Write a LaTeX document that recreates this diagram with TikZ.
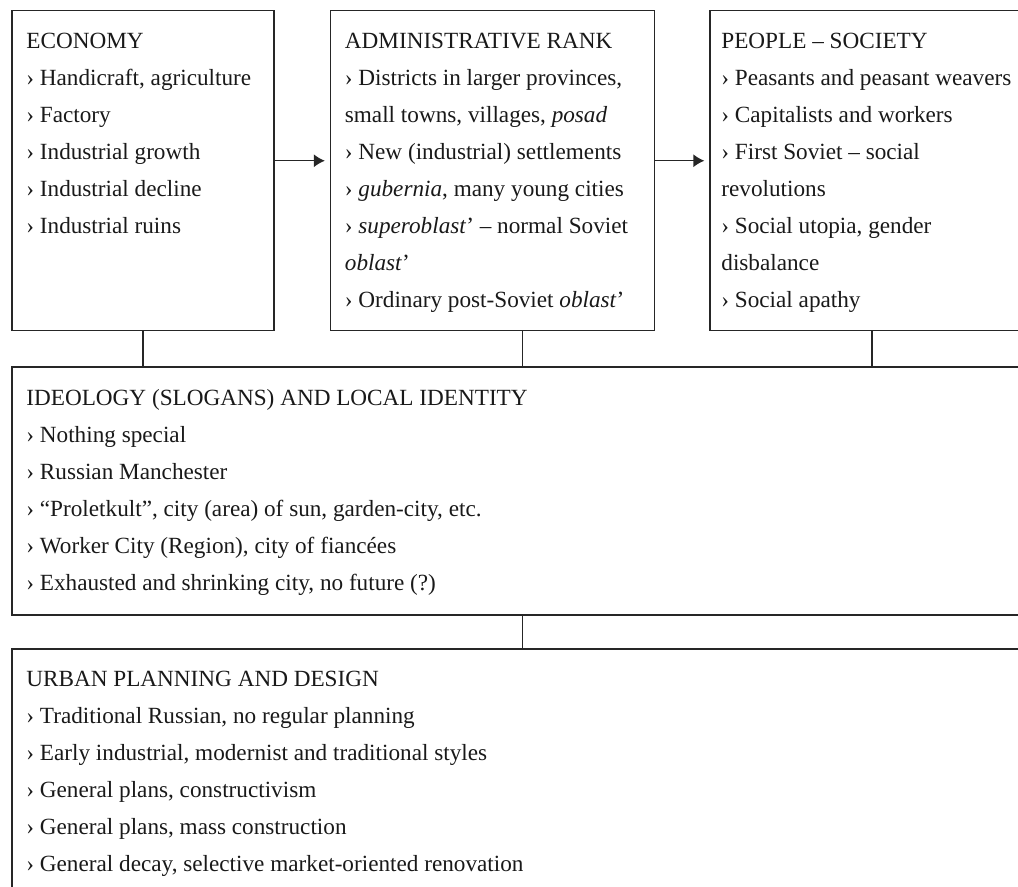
\documentclass[tikz,border=0pt]{standalone}
\usepackage{fontspec}
\setmainfont{Liberation Serif}
\usetikzlibrary{positioning, arrows.meta}

\begin{document}
\begin{tikzpicture}[
      x=0.5pt, y=-0.5pt,
      font=\fontsize{11.6}{18.5}\selectfont,
      every node/.style={text=black!90},
      box/.style={draw=black!85, line width=0.75pt, minimum height=160pt, inner sep=0pt, anchor=north west},
      wide/.style={box, minimum width=509.5pt, minimum height=124pt},
      txt/.style={align=left, inner sep=0pt},
      link/.style={draw=black!85, line width=0.75pt},
      arrow/.style={link, -{Latex[length=5.5pt, width=6.5pt]}, shorten >=2.3pt}
  ]
  \clip (0,0) rectangle (1018,887);
  % Boxes ------------------------------------------------
  \node[box, minimum width=131pt] (econ) at (11,10) {};
  \node[box, minimum width=162pt, right=27.5pt of econ] (admin) {};
  \node[box, minimum width=162pt, right=27pt of admin] (people) {};
  \node[wide, below right=17.5pt and 0pt of econ.south west] (ideo) {};
  \node[wide, below right=16pt and 0pt of ideo.south west] (urban) {};

  % Texts ------------------------------------------------
  \node[txt, below right=11.5pt and 7.5pt of econ.north west] (econtxt) {%
    ECONOMY\\
    › Handicraft, agriculture\\
    › Factory\\
    › Industrial growth\\
    › Industrial decline\\
    › Industrial ruins};
  \node[txt, below right=11.5pt and 7.5pt of admin.north west] (admintxt) {%
    ADMINISTRATIVE RANK\\
    › Districts in larger provinces,\\
    small towns, villages, \textit{posad}\\
    › New (industrial) settlements\\
    › \textit{gubernia}, many young cities\\
    › \textit{superoblast}’ – normal Soviet\\
    \textit{oblast}’\\
    › Ordinary post-Soviet \textit{oblast}’};
  \node[txt, below right=11.5pt and 6pt of people.north west] (peopletxt) {%
    PEOPLE – SOCIETY\\
    › Peasants and peasant weavers\\
    › Capitalists and workers\\
    › First Soviet – social\\
    revolutions\\
    › Social utopia, gender\\
    disbalance\\
    › Social apathy};
  \node[txt, below right=11.5pt and 7.5pt of ideo.north west] (ideotxt) {%
    IDEOLOGY (SLOGANS) AND LOCAL IDENTITY\\
    › Nothing special\\
    › Russian Manchester\\
    › “Proletkult”, city (area) of sun, garden-city, etc.\\
    › Worker City (Region), city of fiancées\\
    › Exhausted and shrinking city, no future (?)};
  \node[txt, below right=11.5pt and 7.5pt of urban.north west] (urbantxt) {%
    URBAN PLANNING AND DESIGN\\
    › Traditional Russian, no regular planning\\
    › Early industrial, modernist and traditional styles\\
    › General plans, constructivism\\
    › General plans, mass construction\\
    › General decay, selective market-oriented renovation};

  % Connectors ------------------------------------------------
  \coordinate (adminfoot) at ([xshift=15pt]admin.south);
  \draw[arrow] ([yshift=5pt]econ.east) -- ([yshift=5pt]admin.west);
  \draw[arrow] ([yshift=5pt]admin.east) -- ([yshift=5pt]people.west);
  \draw[link] (econ.south) -- (econ.south |- ideo.north);
  \draw[link] (adminfoot) -- (adminfoot |- ideo.north);
  \draw[link] (people.south) -- (people.south |- ideo.north);
  \draw[link] (adminfoot |- ideo.south) -- (adminfoot |- urban.north);
\end{tikzpicture}
\end{document}
